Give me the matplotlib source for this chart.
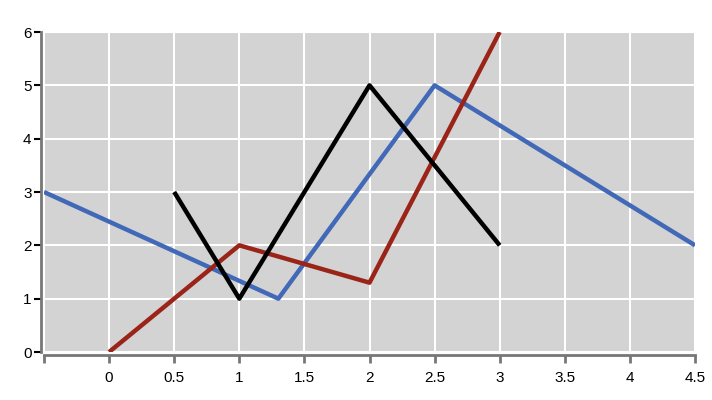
import matplotlib.pyplot as plt

plt.rcParams['font.family'] = ['Liberation Sans', 'DejaVu Sans']

blue_x = [-0.5, 1.3, 2.5, 4.5]
blue_y = [3, 1, 5, 2]
red_x = [0, 1, 2, 3]
red_y = [0, 2, 1.3, 6]
black_x = [0.5, 1, 2, 3]
black_y = [3, 1, 5, 2]

x_ticks = [-0.5, 0, 0.5, 1, 1.5, 2, 2.5, 3, 3.5, 4, 4.5]
x_labels = ['', '0', '0.5', '1', '1.5', '2', '2.5', '3', '3.5', '4', '4.5']
y_ticks = [0, 1, 2, 3, 4, 5, 6]

fig = plt.figure(figsize=(7.12, 4.0), dpi=100)
ax = fig.add_axes([44 / 712, 1 - 352 / 400, (695 - 44) / 712, (352 - 32) / 400])
ax.set_facecolor('#d3d3d3')

ax.plot(blue_x, blue_y, color='#4169b8', lw=3.2, solid_capstyle='butt', zorder=3)
ax.plot(red_x, red_y, color='#9b2418', lw=3.2, solid_capstyle='butt', zorder=3)
ax.plot(black_x, black_y, color='black', lw=3.2, solid_capstyle='butt', zorder=3)

ax.set_xlim(-0.5, 4.5)
ax.set_ylim(0, 6)
ax.set_xticks(x_ticks)
ax.set_xticklabels(x_labels)
ax.set_yticks(y_ticks)
ax.grid(True, color='white', lw=1.5)
ax.set_axisbelow(True)

for s in ['top', 'right']:
    ax.spines[s].set_visible(False)
for s in ['left', 'bottom']:
    ax.spines[s].set_color('#777777')
    ax.spines[s].set_linewidth(2)
    ax.spines[s].set_position(('outward', 2))
ax.tick_params(axis='x', length=6, width=2, color='#777777', labelsize=11, pad=6)
ax.tick_params(axis='y', length=5, width=1.5, color='black', labelsize=11, pad=2)

fig.savefig('out.png', dpi=100)
